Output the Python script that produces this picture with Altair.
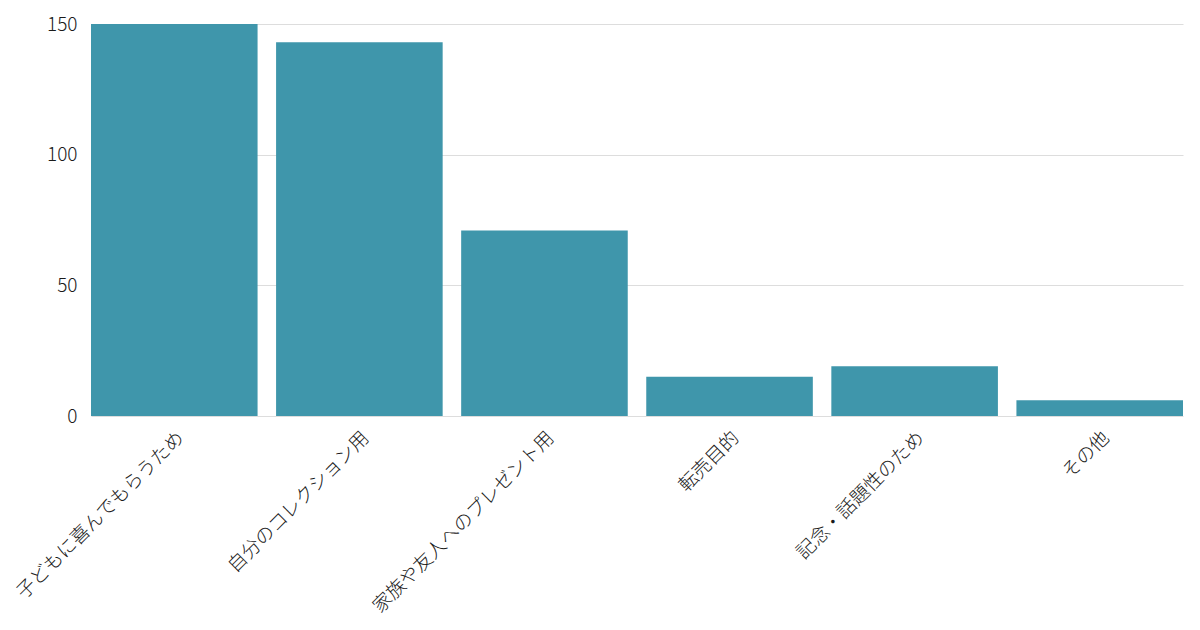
import altair as alt
import pandas as pd

# Survey answers: purpose of purchase and number of respondents
categories = [
    "子どもに喜んでもらうため",
    "自分のコレクション用",
    "家族や友人へのプレゼント用",
    "転売目的",
    "記念・話題性のため",
    "その他",
]
counts = [150, 143, 71, 15, 19, 6]

df = pd.DataFrame({"purpose": categories, "count": counts})

FONT = "Noto Sans CJK JP"

chart = (
    alt.Chart(df)
    .mark_bar(color="#3f96ab")
    .encode(
        x=alt.X(
            "purpose:N",
            sort=categories,
            title=None,
            scale=alt.Scale(paddingInner=0.1, paddingOuter=0),
            axis=alt.Axis(
                labelAngle=-45,
                labelFontSize=19,
                labelFontWeight=300,
                labelColor="#1a1a1a",
                labelFont=FONT,
                labelLimit=400,
                ticks=False,
                domain=False,
                labelPadding=12,
            ),
        ),
        y=alt.Y(
            "count:Q",
            title=None,
            scale=alt.Scale(domain=[0, 150], nice=False),
            axis=alt.Axis(
                values=[0, 50, 100, 150],
                labelFontSize=19,
                labelFontWeight=300,
                labelColor="#1a1a1a",
                labelFont=FONT,
                ticks=False,
                domain=False,
                gridColor="#dddddd",
                labelPadding=14,
            ),
        ),
    )
    .properties(
        width=1092,
        height=392,
        autosize=alt.AutoSizeParams(type="none"),
        padding={"left": 91, "top": 24, "right": 17, "bottom": 214},
    )
    .configure_view(stroke=None)
)

chart.save("out.html", embed_options={"renderer": "svg", "actions": False})
